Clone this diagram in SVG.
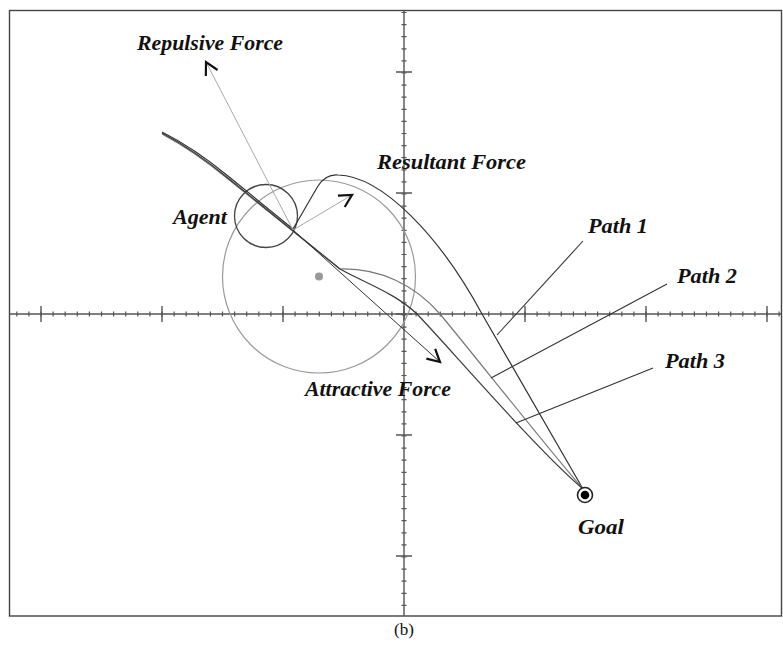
<svg xmlns="http://www.w3.org/2000/svg" width="783" height="646" viewBox="0 0 783 646">
<style>
.lbl{font-family:"Liberation Serif","Times New Roman",serif;font-style:italic;font-weight:bold;font-size:21px;fill:#111}
.cap{font-family:"Liberation Serif","Times New Roman",serif;font-size:17px;fill:#111}
.axis{stroke:#555;stroke-width:1.4;fill:none}
.tk{stroke:#555;fill:none}
.path{fill:none;stroke-width:1.2;stroke-linejoin:round}
.lead{fill:none;stroke:#333;stroke-width:1.1}
.force{fill:none;stroke-width:1}
</style>
<defs>
<marker id="ah" markerUnits="userSpaceOnUse" markerWidth="30" markerHeight="30" viewBox="-15 -15 30 30" refX="0" refY="0" orient="auto" overflow="visible">
<path d="M-12.4,-6.6 L0,0 L-12.4,6.6" fill="none" stroke="#111" stroke-width="2.2"/>
</marker>
</defs>
<rect width="783" height="646" fill="#fff"/>
<g id="frame">
<rect x="9.5" y="10.5" width="772" height="605.5" fill="none" stroke="#444" stroke-width="1.4"/>
</g>
<g id="axes">
<line class="axis" x1="10" y1="314" x2="781" y2="314"/>
<line class="axis" x1="404" y1="11" x2="404" y2="616"/>
<line class="tk" x1="16.2" y1="314" x2="780" y2="314" stroke-width="5" stroke-dasharray="1.2 10.9"/>
<line class="tk" x1="40.3" y1="314" x2="769" y2="314" stroke-width="16" stroke-dasharray="1.4 119.6"/>
<line class="tk" x1="404" y1="11.9" x2="404" y2="617" stroke-width="5" stroke-dasharray="1.2 10.9"/>
<line class="tk" x1="404" y1="71.3" x2="404" y2="557" stroke-width="16" stroke-dasharray="1.4 119.6"/>
</g>
<g id="obstacle">
<circle cx="319" cy="276.5" r="96.5" fill="none" stroke="#9a9a9a" stroke-width="1.2"/>
<circle cx="319" cy="276.5" r="4" fill="#999"/>
</g>
<g id="agent">
<circle cx="266" cy="216" r="31.5" fill="none" stroke="#444" stroke-width="1.3"/>
</g>
<g id="connectors">
<path id="path1" class="path" stroke="#333" d="M162,132 Q194,148 228,176 L293,229 L318,186 Q326,174 338,175 C382,176 440,236 482,314 L583,489"/>
<path id="path2" class="path" stroke="#777" d="M162,134 Q194,151 228,179 L340,269 C380,268 415,285 440,314 C470,350 545,445 583,489"/>
<path id="path3" class="path" stroke="#3a3a3a" d="M162,133 Q194,150 228,178 L340,269 C365,283 395,293 417,314 C447,345 535,448 583,489"/>
<line id="repulsive" class="force" stroke="#aaa" x1="293" y1="230" x2="206" y2="62" marker-end="url(#ah)"/>
<line id="resultant" class="force" stroke="#aaa" x1="293" y1="230" x2="352" y2="195" marker-end="url(#ah)"/>
<line id="attractive" class="force" stroke="#333" x1="293" y1="230" x2="440" y2="362" marker-end="url(#ah)"/>
<line class="lead" x1="497" y1="335" x2="583" y2="241"/>
<line class="lead" x1="491" y1="378" x2="667" y2="284"/>
<line class="lead" x1="516" y1="423" x2="653" y2="368"/>
</g>
<g id="goal">
<circle cx="585" cy="495" r="7.5" fill="#fff" stroke="#222" stroke-width="1.6"/>
<circle cx="585" cy="495" r="4.3" fill="#000"/>
</g>
<g id="labels">
<text class="lbl" x="137" y="50" textLength="146" lengthAdjust="spacingAndGlyphs">Repulsive Force</text>
<text class="lbl" x="377" y="169" textLength="149" lengthAdjust="spacingAndGlyphs">Resultant Force</text>
<text class="lbl" x="173" y="224" textLength="54" lengthAdjust="spacingAndGlyphs">Agent</text>
<text class="lbl" x="588" y="233" textLength="60" lengthAdjust="spacingAndGlyphs">Path 1</text>
<text class="lbl" x="677" y="283" textLength="60" lengthAdjust="spacingAndGlyphs">Path 2</text>
<text class="lbl" x="665" y="368" textLength="60" lengthAdjust="spacingAndGlyphs">Path 3</text>
<text class="lbl" x="305" y="396" textLength="146" lengthAdjust="spacingAndGlyphs">Attractive Force</text>
<text class="lbl" x="578" y="534" textLength="46" lengthAdjust="spacingAndGlyphs">Goal</text>
<text class="cap" x="404" y="635" text-anchor="middle">(b)</text>
</g>
</svg>
